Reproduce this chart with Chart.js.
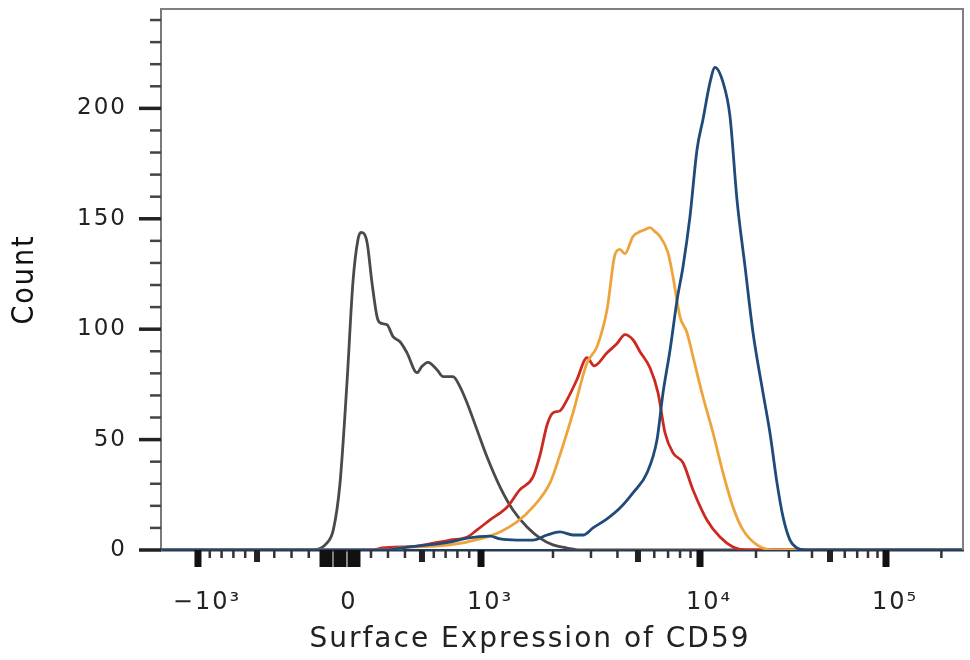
<!DOCTYPE html>
<html>
<head>
<meta charset="utf-8">
<script src="https://cdn.jsdelivr.net/npm/chart.js"></script>
<style>
  html, body { margin: 0; background: #fff; }
  #wrap { width: 970px; height: 660px; }
</style>
</head>
<body>
<div id="wrap"><canvas id="myChart"></canvas></div>
<script>
// histogram: display channel (0..1024) and count
const grayChannels  = [0, 194, 212, 220, 228.5, 237.5, 245, 251.5, 255.4, 263, 269.4, 275.8, 279.6, 288.6, 296.3, 305.2, 314.1, 326.9, 333.2, 340.9, 352.4, 360.1, 372.8, 381.8, 390.7, 403.5, 416.2, 432.8, 449.4, 467.3, 483.9, 500.5, 518.4, 535, 1024];
const grayCounts    = [0, 0, 3.2, 9.1, 30, 76, 121, 140.6, 143.8, 139.5, 121, 105.7, 102.9, 102, 96.6, 94.3, 89.3, 80.3, 83.2, 85, 81.6, 78.5, 78.5, 73.9, 66.7, 54.4, 42.2, 28.6, 18.1, 10.4, 5.4, 2.3, 0.9, 0, 0];

const redChannels   = [0, 270, 283, 327, 369, 391, 403.5, 420, 442, 458, 475, 484, 493, 500.5, 509.4, 518.4, 531, 544, 553, 569.5, 582, 592.4, 602.6, 611.6, 624.3, 634.6, 643.5, 653.7, 666.5, 679.3, 697, 713.7, 730.3, 748, 1024];
const redCounts     = [0, 0, 0.9, 1.8, 4.5, 5.9, 9.1, 13.6, 19.5, 27.2, 33.1, 43.1, 56.7, 62.1, 63, 68, 77.1, 87.1, 83.4, 89.3, 93.4, 97.5, 95.2, 89.8, 82.5, 71.2, 53.1, 44, 39.5, 27.2, 13.6, 5.9, 1.4, 0, 0];

const orangeChannels = [0, 290, 305, 369, 411, 433, 454.5, 475, 496.7, 509.4, 526, 544, 556.7, 569.5, 579.7, 586, 592.4, 602.6, 611.6, 618, 624.3, 630.7, 637.1, 647.3, 653.7, 662.6, 671.6, 679.3, 692, 704.8, 717.6, 730.3, 743.1, 761, 781.4, 1024];
const orangeCounts   = [0, 0, 0.9, 2.3, 5.4, 8.2, 12.7, 19.5, 30.4, 43.1, 62.1, 84.8, 92.1, 108.8, 133.8, 136.1, 134.2, 142, 144.2, 145.1, 146, 144.2, 142, 134.7, 123.8, 105.7, 98.4, 87.5, 69.4, 53.1, 34.9, 19.5, 9.1, 2.3, 0, 0];

const blueChannels  = [0, 290, 305, 369, 391, 420, 433, 454.5, 475, 493, 509.4, 526, 539, 551.6, 569.5, 586, 602.6, 620.5, 633.3, 641, 650, 659, 666.5, 675.4, 684.4, 692, 701, 707.4, 717.6, 726.5, 735.4, 745.7, 755.9, 767.3, 777.5, 786.5, 794.2, 803.1, 812, 822, 1024];
const blueCounts    = [0, 0, 0.9, 3.6, 5.4, 6.3, 5, 4.5, 4.5, 6.8, 8.2, 6.8, 6.8, 10, 14.1, 19, 25.9, 34.9, 49.9, 71.2, 90.7, 113.4, 128.3, 151, 181.4, 195, 211.8, 218.6, 211.8, 196.4, 158.7, 128.3, 98.4, 73.9, 53.1, 30.4, 15, 4.5, 0.9, 0, 0];

// x axis (biexponential display), tick values and labels
const xTickValues   = [-1000, 0, 1000, 10000, 100000];
const xTickLabels   = ['\u221210\u00b3', '0', '10\u00b3', '10\u2074', '10\u2075'];
const xZeroBlock    = [-100, 0, 100];
const xMediumTicks  = [-500, 500, 5000, 50000];
const xMinorTicks   = [-900, -800, -700, -600, -400, -300, -200, 200, 300, 400, 600, 700, 800, 900,
                       2000, 3000, 4000, 6000, 7000, 8000, 9000,
                       20000, 30000, 40000, 60000, 70000, 80000, 90000, 200000];
// channel of some values; between them linear (low) or log (high)
const anchorValues   = [-1000, -500, -100, 0, 100, 500, 1000, 2000, 3000, 5000, 10000, 100000, 262144];
const anchorChannels = [47.2, 122.6, 210.7, 228.5, 246.4, 333.2, 408.6, 500.5, 549.0, 609.0, 688.2, 925.7, 1024];

const yTickValues   = [0, 50, 100, 150, 200];
const yMinorTicks   = [10, 20, 30, 40, 60, 70, 80, 90, 110, 120, 130, 140, 160, 170, 180, 190, 210, 220, 230, 240];

function toChannel(v) {
  for (let i = 0; i < anchorValues.length - 1; i++) {
    const a = anchorValues[i], b = anchorValues[i + 1];
    if (v >= a && v <= b) {
      let t;
      if (a >= 1000) t = Math.log(v / a) / Math.log(b / a);
      else t = (v - a) / (b - a);
      return anchorChannels[i] + t * (anchorChannels[i + 1] - anchorChannels[i]);
    }
  }
  return v < 0 ? 0 : 1024;
}

function pts(xs, ys) {
  return xs.map((x, i) => ({ x: x, y: ys[i] }));
}

const tickMarks = {
  id: 'tickMarks',
  afterLayout(chart) {
    // centre the x title under the plot like the original
    if (chart.titleBlock) chart.titleBlock.left = 97;
  },
  beforeDraw(chart) {
    chart.ctx.letterSpacing = '2px';
  },
  afterDraw(chart) {
    const ctx = chart.ctx;
    ctx.letterSpacing = '0px';
    const sx = chart.scales.x, sy = chart.scales.y;
    const area = chart.chartArea;
    ctx.save();
    // frame top and right
    ctx.strokeStyle = '#808080';
    ctx.lineWidth = 2;
    ctx.beginPath();
    ctx.moveTo(area.left, area.top);
    ctx.lineTo(area.right, area.top);
    ctx.lineTo(area.right, area.bottom);
    ctx.stroke();

    ctx.fillStyle = '#111';
    const xt = (v, w, len) => {
      const px = sx.getPixelForValue(toChannel(v));
      ctx.fillRect(px - w / 2, area.bottom, w, len);
    };
    xTickValues.forEach(v => { if (v !== 0) xt(v, 7, 17); });
    xZeroBlock.forEach(v => xt(v, 13, 17));
    ctx.fillStyle = '#222';
    xMediumTicks.forEach(v => xt(v, 6, 12));
    ctx.fillStyle = '#333';
    xMinorTicks.forEach(v => xt(v, 2.5, 8));

    const yt = (v, w, len) => {
      const py = sy.getPixelForValue(v);
      ctx.fillRect(area.left - len, py - w / 2, len, w);
    };
    ctx.fillStyle = '#222';
    yTickValues.forEach(v => yt(v, 3.5, 22));
    ctx.fillStyle = '#444';
    yMinorTicks.forEach(v => yt(v, 2.5, 11));
    ctx.restore();
  }
};

const line = (data, color) => ({
  data: data,
  borderColor: color,
  borderWidth: 2.8,
  pointRadius: 0,
  fill: false,
  cubicInterpolationMode: 'monotone'
});

new Chart(document.getElementById('myChart'), {
  type: 'line',
  data: {
    datasets: [
      line(pts(blueChannels, blueCounts), '#1e4b7a'),
      line(pts(orangeChannels, orangeCounts), '#eea43c'),
      line(pts(redChannels, redCounts), '#cc2a20'),
      line(pts(grayChannels, grayCounts), '#4a4a4a')
    ]
  },
  options: {
    responsive: true,
    maintainAspectRatio: false,
    animation: false,
    layout: { padding: { left: 0, top: 9, right: 7, bottom: 0 } },
    plugins: {
      legend: { display: false },
      tooltip: { enabled: false },
      title: {
        display: true,
        position: 'bottom',
        text: 'Surface Expression of CD59',
        color: '#222',
        font: { family: 'DejaVu Sans', size: 28, weight: 'normal' },
        padding: { top: 0, bottom: 3 }
      }
    },
    scales: {
      x: {
        type: 'linear',
        min: 0,
        max: 1024,
        grid: { display: false, drawTicks: false },
        border: { display: true, color: '#233a5a', width: 2.5 },
        afterBuildTicks(scale) {
          scale.ticks = xTickValues.map(v => ({ value: toChannel(v) }));
        },
        afterFit(scale) { scale.height = 73.4; },
        ticks: {
          autoSkip: false,
          maxRotation: 0,
          padding: 38,
          labelOffset: 9,
          color: '#222',
          font: { family: 'DejaVu Sans', size: 24 },
          callback: (val, i) => xTickLabels[i]
        }
      },
      y: {
        min: 0,
        max: 245,
        grid: { display: false, drawTicks: true, tickLength: 34, tickColor: 'rgba(0,0,0,0)' },
        border: { display: true, color: '#7a7a7a', width: 2 },
        afterBuildTicks(scale) {
          scale.ticks = yTickValues.map(v => ({ value: v }));
        },
        afterFit(scale) { scale.width = 161; },
        ticks: {
          padding: 0,
          color: '#222',
          font: { family: 'DejaVu Sans', size: 23, lineHeight: 0.7 }
        },
        title: {
          display: true,
          text: 'Count',
          color: '#111',
          font: { family: "'Liberation Sans Narrow', 'DejaVu Sans Condensed', 'Open Sans', sans-serif", size: 30 },
          padding: { top: 7, bottom: 0 }
        }
      }
    }
  },
  plugins: [tickMarks]
});
</script>
</body>
</html>
